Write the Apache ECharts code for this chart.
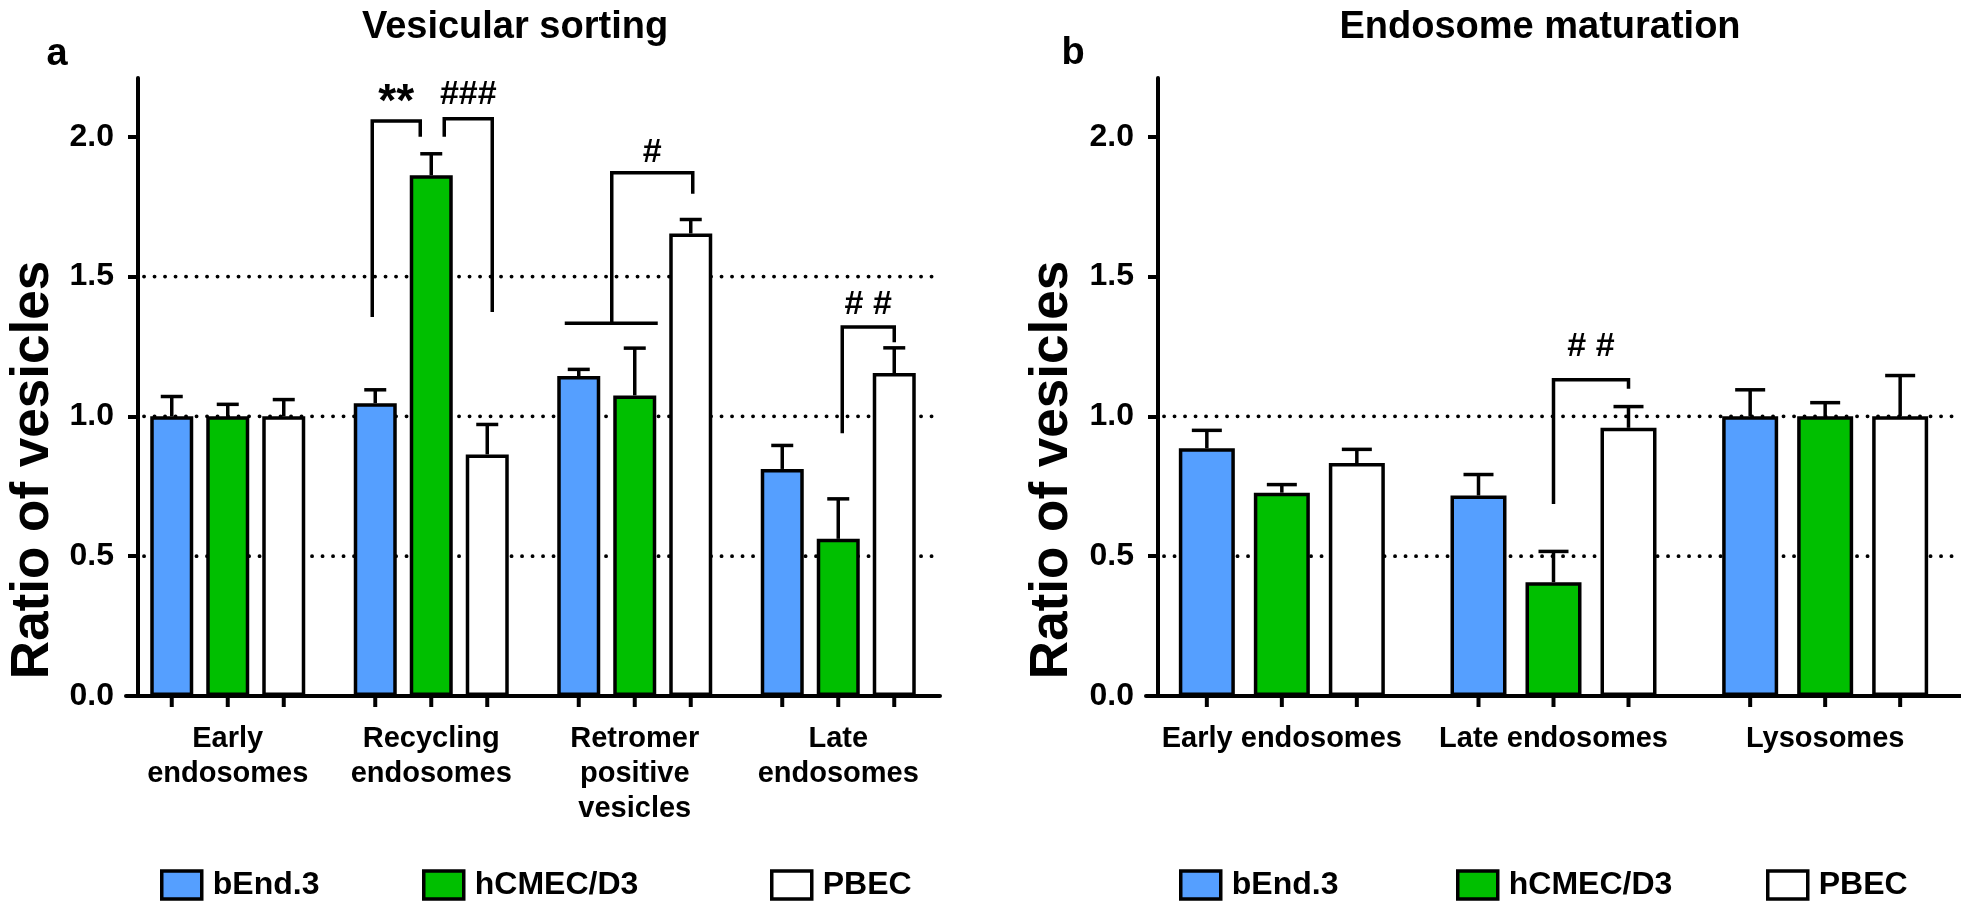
<!DOCTYPE html>
<html><head><meta charset="utf-8">
<script src="https://cdn.jsdelivr.net/npm/echarts@6/dist/echarts.min.js"></script>
<style>html,body{margin:0;padding:0;background:#fff}#c{width:1961px;height:912px}</style>
</head><body><div id="c"></div>
<script>
// ---------- data ----------
const seriesNames = ['bEnd.3', 'hCMEC/D3', 'PBEC'];
const yTicks = [0, 0.5, 1.0, 1.5, 2.0];

const categoriesA = ['Early\nendosomes', 'Recycling\nendosomes', 'Retromer\npositive\nvesicles', 'Late\nendosomes'];
const bEnd3A = [1.0, 1.047, 1.144, 0.812];
const bEnd3AErr = [0.071, 0.048, 0.024, 0.084];
const hcmecA = [1.0, 1.862, 1.075, 0.562];
const hcmecAErr = [0.043, 0.077, 0.169, 0.143];
const pbecA = [1.0, 0.864, 1.654, 1.155];
const pbecAErr = [0.06, 0.107, 0.05, 0.09];
const refLinesA = [0.5, 1.0, 1.5];

const categoriesB = ['Early endosomes', 'Late endosomes', 'Lysosomes'];
const bEnd3B = [0.886, 0.717, 1.0];
const bEnd3BErr = [0.064, 0.075, 0.095];
const hcmecB = [0.727, 0.407, 1.0];
const hcmecBErr = [0.029, 0.11, 0.049];
const pbecB = [0.833, 0.959, 1.0];
const pbecBErr = [0.049, 0.076, 0.146];
const refLinesB = [0.5, 1.0];

// significance annotations: group, bar index of each leg, leg ends, bracket top, label
const annotationsA = [
  {g: 1, a: 0, b: 1, ya: 1.355, yb: 2.0, top: 2.056, text: '**', ty: 2.121},
  {g: 1, a: 1, b: 2, ya: 2.0, yb: 1.373, top: 2.064, text: '###', ty: 2.15},
  {g: 2, a: 0.5, b: 2, ya: 1.333, yb: 1.796, top: 1.871, text: '#', ty: 1.942, base: [0, 1]},
  {g: 3, a: 1, b: 2, ya: 0.94, yb: 1.265, top: 1.32, text: '# #', ty: 1.40}
];
const annotationsB = [
  {g: 1, a: 1, b: 2, ya: 0.687, yb: 1.099, top: 1.131, text: '# #', ty: 1.248}
];

// ---------- style ----------
const FF = '"Liberation Sans", Arial, Helvetica, sans-serif';
const colors = ['#559FFF', '#00BF00', '#FFFFFF'];
const SP_A = 56, SP_B = 75;      // bar centre spacing in px
const BW_A = 43, BW_B = 56;      // bar widths
const annFont = {'**': 46};

const chart = echarts.init(document.getElementById('c'), null, {renderer: 'canvas'});

function errData(vals, errs, s) { return vals.map((v, i) => [i, v, errs[i], s]); }

function errRender(sp, capW) {
  return function (params, api) {
    const g = api.value(0), v = api.value(1), e = api.value(2), s = api.value(3);
    const base = api.coord([g, v]);
    const x = base[0] + (s - 1) * sp;
    const y1 = base[1];
    const y2 = api.coord([g, v + e])[1];
    const y0 = api.coord([g, 0])[1];
    const st = {stroke: '#000', lineWidth: 3.5};
    return {type: 'group', children: [
      {type: 'line', shape: {x1: x, y1: y1, x2: x, y2: y2}, style: st},
      {type: 'line', shape: {x1: x - capW / 2, y1: y2, x2: x + capW / 2, y2: y2}, style: st},
      {type: 'line', shape: {x1: x, y1: y0, x2: x, y2: y0 + 11}, style: {stroke: '#000', lineWidth: 4}}
    ]};
  };
}

function refRender(startOff, xEnd) {
  return function (params, api) {
    const y = api.coord([0, api.value(1)])[1];
    const cs = params.coordSys;
    return {type: 'line', shape: {x1: cs.x + startOff, y1: y, x2: xEnd, y2: y},
      style: {stroke: '#000', lineWidth: 3.8, lineDash: [0.1, 10.4], lineCap: 'round'}};
  };
}

function annRender(list, sp, offA, offB) {
  return function (params, api) {
    const an = list[params.dataIndex];
    const cx = api.coord([an.g, 0])[0];
    const bx = i => cx + (i - 1) * sp;
    const x1 = bx(an.a) + (offA[params.dataIndex] || 0);
    const x2 = bx(an.b) + (offB[params.dataIndex] || 0);
    const Y = v => api.coord([an.g, v])[1];
    const st = {stroke: '#000', lineWidth: 3.5, fill: null};
    const fs = annFont[an.text] || 34;
    const ch = [
      {type: 'polyline', shape: {points: [[x1, Y(an.ya)], [x1, Y(an.top)], [x2, Y(an.top)], [x2, Y(an.yb)]]}, style: st},
      {type: 'text', style: {text: an.text, x: (x1 + x2) / 2, y: Y(an.ty), fill: '#000',
        font: 'bold ' + fs + 'px ' + FF, align: 'center', verticalAlign: 'middle', textAlign: 'center', textVerticalAlign: 'middle'}}
    ];
    if (an.base) {
      ch.push({type: 'line', shape: {x1: bx(an.base[0]) - 14, y1: Y(an.ya), x2: bx(an.base[1]) + 23, y2: Y(an.ya)}, style: st});
    }
    return {type: 'group', children: ch};
  };
}

function yAxisCfg(gridIndex, offset) {
  return {
    type: 'value', gridIndex: gridIndex, min: 0, max: 2.21, interval: 0.5, offset: offset,
    axisLine: {show: true, lineStyle: {color: '#000', width: 4}},
    axisTick: {show: true, length: 10, inside: false, lineStyle: {color: '#000', width: 4}, customValues: yTicks},
    axisLabel: {show: true, margin: 24, color: '#000', fontFamily: FF, fontWeight: 'bold', fontSize: 32,
      customValues: yTicks,
      formatter: v => (Math.abs(v * 2 - Math.round(v * 2)) < 1e-6 ? v.toFixed(1) : '')},
    splitLine: {show: false}
  };
}

function xAxisCfg(gridIndex, cats) {
  return {
    type: 'category', gridIndex: gridIndex, data: cats, boundaryGap: true,
    axisLine: {show: true, onZero: false, lineStyle: {color: '#000', width: 4}},
    axisTick: {show: false},
    axisLabel: {show: true, interval: 0, margin: 25, color: '#000', fontFamily: FF, fontWeight: 'bold',
      fontSize: 29, lineHeight: 35, align: 'center', verticalAlign: 'top'},
    splitLine: {show: false}
  };
}

const valsA = [bEnd3A, hcmecA, pbecA], errsA = [bEnd3AErr, hcmecAErr, pbecAErr];
const valsB = [bEnd3B, hcmecB, pbecB], errsB = [bEnd3BErr, hcmecBErr, pbecBErr];

const series = [];
series.push({type: 'custom', xAxisIndex: 0, yAxisIndex: 0, z: 1, silent: true, clip: false,
  data: refLinesA.map(v => [0, v]), encode: {x: 0, y: 1}, renderItem: refRender(18, 937)});
series.push({type: 'custom', xAxisIndex: 1, yAxisIndex: 1, z: 1, silent: true, clip: false,
  data: refLinesB.map(v => [0, v]), encode: {x: 0, y: 1}, renderItem: refRender(18, 1961)});

seriesNames.forEach((n, s) => {
  series.push({type: 'bar', name: n, xAxisIndex: 0, yAxisIndex: 0, data: valsA[s], barWidth: BW_A,
    barGap: ((SP_A - BW_A) / BW_A * 100) + '%', z: 2,
    itemStyle: {color: colors[s], borderColor: '#000', borderWidth: 3.5}});
});
seriesNames.forEach((n, s) => {
  series.push({type: 'bar', name: n, xAxisIndex: 1, yAxisIndex: 1, data: valsB[s], barWidth: BW_B,
    barGap: ((SP_B - BW_B) / BW_B * 100) + '%', z: 2,
    itemStyle: {color: colors[s], borderColor: '#000', borderWidth: 3.5}});
});
seriesNames.forEach((n, s) => {
  series.push({type: 'custom', xAxisIndex: 0, yAxisIndex: 0, z: 3, silent: true, clip: false,
    data: errData(valsA[s], errsA[s], s), encode: {x: 0, y: 1}, renderItem: errRender(SP_A, 22)});
  series.push({type: 'custom', xAxisIndex: 1, yAxisIndex: 1, z: 3, silent: true, clip: false,
    data: errData(valsB[s], errsB[s], s), encode: {x: 0, y: 1}, renderItem: errRender(SP_B, 30)});
});
series.push({type: 'custom', xAxisIndex: 0, yAxisIndex: 0, z: 4, silent: true, clip: false,
  data: annotationsA.map(a => [a.g, a.top]), encode: {x: 0, y: 1},
  renderItem: annRender(annotationsA, SP_A, [-3, 13, 5, 4], [-11, 5, 2, 0])});
series.push({type: 'custom', xAxisIndex: 1, yAxisIndex: 1, z: 4, silent: true, clip: false,
  data: annotationsB.map(a => [a.g, a.top]), encode: {x: 0, y: 1},
  renderItem: annRender(annotationsB, SP_B, [0], [0])});

function legendCfg(name, left) {
  return {data: [name], left: left, top: 867, padding: 0, icon: 'rect', itemWidth: 40, itemHeight: 28,
    selectedMode: false, itemStyle: {borderColor: '#000', borderWidth: 3.5},
    textStyle: {color: '#000', fontFamily: FF, fontWeight: 'bold', fontSize: 32, lineHeight: 36, padding: [0, 0, 0, 6]}};
}
const legendLeftA = [160, 422, 770];
const legendLeftB = [1179, 1456, 1766];

function txt(text, x, y, size, extra) {
  return Object.assign({type: 'text', x: x, y: y, silent: true,
    style: {text: text, fill: '#000', font: 'bold ' + size + 'px ' + FF,
      align: 'center', verticalAlign: 'middle', textAlign: 'center', textVerticalAlign: 'middle'}}, extra || {});
}

chart.setOption({
  animation: false,
  backgroundColor: '#fff',
  grid: [
    {left: 126, top: 78, width: 814, height: 618, containLabel: false},
    {left: 1146, top: 78, width: 815, height: 618, containLabel: false}
  ],
  xAxis: [xAxisCfg(0, categoriesA), xAxisCfg(1, categoriesB)],
  yAxis: [yAxisCfg(0, -12), yAxisCfg(1, -12)],
  legend: seriesNames.map((n, i) => legendCfg(n, legendLeftA[i]))
    .concat(seriesNames.map((n, i) => legendCfg(n, legendLeftB[i]))),
  graphic: [
    txt('Vesicular sorting', 515, 28, 38),
    txt('Endosome maturation', 1540, 28, 38),
    txt('a', 57, 55, 38),
    txt('b', 1073, 54, 38),
    txt('Ratio of vesicles', 33, 470, 53, {rotation: Math.PI / 2}),
    txt('Ratio of vesicles', 1052, 470, 53, {rotation: Math.PI / 2})
  ],
  series: series
});
</script>
</body></html>
